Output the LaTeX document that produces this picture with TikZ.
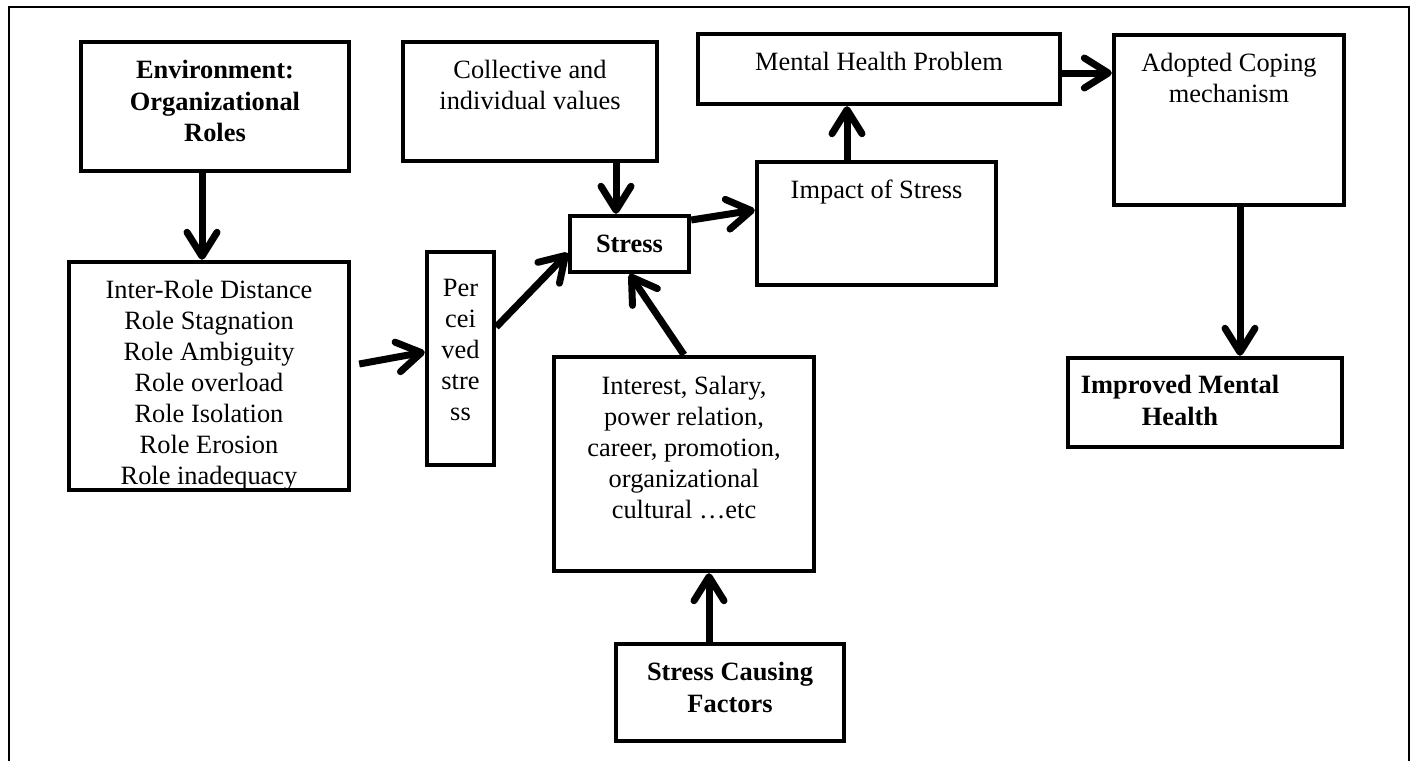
\documentclass[tikz,border=0pt]{standalone}
\usepackage{fontspec}
\setmainfont{Liberation Serif}
\usetikzlibrary{arrows.meta,fit,calc}
\begin{document}
\begin{tikzpicture}[x=0.5pt,y=-0.5pt,
  frame/.style={line width=1pt},
  bx/.style={draw,line width=2.2pt,inner sep=0pt},
  lbl/.style={anchor=north,inner sep=0pt,align=center,font=\fontsize{13.2}{15.5}\selectfont},
  blbl/.style={lbl,font=\fontsize{13.2}{15.8}\selectfont\bfseries},
  arr/.style={line width=3.5pt,-{Straight Barb[length=12pt,width=15pt,round]}}]
\useasboundingbox (0,0) rectangle (1411,760);
% outer frame, running off the bottom of the page
\draw[frame] (9,790) -- (9,7) -- (1409,7) -- (1409,790);

% boxes
\node[bx,fit={(81,42)(349,171)}] (env) {};
\node[bx,fit={(69,262)(349,490)}] (inter) {};
\node[bx,fit={(403,42)(657,161)}] (coll) {};
\node[bx,fit={(427,252)(494,465)}] (perc) {};
\node[bx,fit={(570,216)(689,272)}] (stress) {};
\node[bx,fit={(554,357)(814,571)}] (interest) {};
\node[bx,fit={(616,644)(844,741)}] (scf) {};
\node[bx,fit={(757,162)(996,285)}] (impact) {};
\node[bx,fit={(698,34)(1060,104)}] (mental) {};
\node[bx,fit={(1114,35)(1344,205)}] (adopted) {};
\node[bx,fit={(1068,358)(1342,447)}] (improved) {};

% box texts
\node[blbl] (envT) at ($(env.north)+(0,20)$) {Environment:\\Organizational\\Roles};
\node[lbl] (interT) at ($(inter.north)+(0,20)$) {Inter-Role Distance\\Role Stagnation\\Role Ambiguity\\Role overload\\Role Isolation\\Role Erosion\\Role inadequacy};
\node[lbl] (collT) at ($(coll.north)+(0,20)$) {Collective and\\individual values};
\node[lbl] (percT) at ($(perc.north)+(0,29)$) {Per\\cei\\ved\\stre\\ss};
\node[blbl,anchor=center] (stressT) at (stress.center) {Stress};
\node[lbl] (interestT) at ($(interest.north)+(0,21)$) {Interest, Salary,\\power relation,\\career, promotion,\\organizational\\cultural …etc};
\node[blbl] (scfT) at ($(scf.north)+(0,20)$) {Stress Causing\\Factors};
\node[lbl] (impactT) at ($(impact.north)+(0,20)$) {Impact of Stress};
\node[lbl] (mentalT) at ($(mental.north)+(0,20)$) {Mental Health Problem};
\node[lbl] (adoptedT) at ($(adopted.north)+(0,20)$) {Adopted Coping\\mechanism};
\node[blbl] (improvedT) at ($(improved.north)+(-25,19)$) {Improved Mental\\Health};

% connectors
\coordinate (interOut) at ($(inter.east)+(8,-12)$);
\draw[arr] ($(env.south)+(-13,0)$) -- ($(inter.north)+(-7,0)$);
\draw[arr] (interOut) -- ($(perc.west)+(0,-6.5)$);
\draw[arr] ($(perc.east)+(0,-31.5)$) -- ($(stress.west)+(0,9)$);
\draw[arr] ($(coll.south)+(86,0)$) -- ($(stress.north)+(-13.5,0)$);
\draw[arr] (interest.north) -- (stress.south);
\draw[arr] ($(stress.east)+(0,-24)$) -- ($(impact.west)+(0,-13.5)$);
\draw[arr] ($(impact.north)+(-29.5,0)$) -- ($(mental.south)+(-32,0)$);
\draw[arr] ($(mental.east)+(0,4)$) -- ($(adopted.west)+(0,-47)$);
\draw[arr] ($(adopted.south)+(11,0)$) -- ($(improved.north)+(35,0)$);
\draw[arr] ($(scf.north)+(-21,0)$) -- ($(interest.south)+(25,0)$);
\end{tikzpicture}
\end{document}
